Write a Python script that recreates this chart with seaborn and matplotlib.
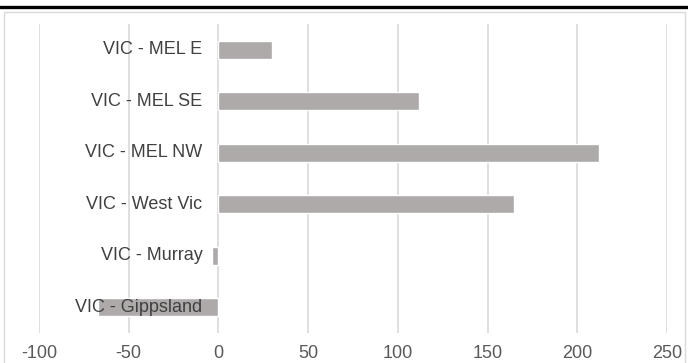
import matplotlib
matplotlib.use("Agg")
import matplotlib.pyplot as plt
import matplotlib.transforms as mtransforms
from matplotlib.patches import Rectangle
from matplotlib.lines import Line2D
import pandas as pd
import seaborn as sns

regions = ["VIC - MEL E", "VIC - MEL SE", "VIC - MEL NW",
           "VIC - West Vic", "VIC - Murray", "VIC - Gippsland"]
values = [30, 112, 212, 165, -3.5, -67]
xticks = [-100, -50, 0, 50, 100, 150, 200, 250]

df = pd.DataFrame({"region": regions, "value": values})

sns.set_theme(style="white")
plt.rcParams["font.family"] = ["Liberation Sans", "DejaVu Sans"]

fig = plt.figure(figsize=(6.88, 3.63), dpi=100)
ax = fig.add_axes([39 / 688, 1 - 333 / 363, (667 - 39) / 688, (333 - 24) / 363])

sns.barplot(data=df, x="value", y="region", orient="h", order=regions,
            color="#AEAAAA", saturation=1, width=0.35, ax=ax, zorder=3)

ax.set_xlim(-100, 250)
ax.set_xticks(xticks)
ax.set_xticklabels([str(t) for t in xticks], fontsize=13, color="#595959")
ax.tick_params(axis="x", length=0, pad=9)
ax.grid(axis="x", color="#D9D9D9", linewidth=1.2, zorder=0)
ax.set_xlabel("")
ax.set_ylabel("")
ax.set_yticks([])
for s in ax.spines.values():
    s.set_visible(False)

# category labels sit next to the zero line, like the source chart
trans = mtransforms.offset_copy(ax.transData, fig=fig, x=-16, y=0, units="dots")
for i, r in enumerate(regions):
    ax.text(0, i, r, transform=trans, ha="right", va="center",
            fontsize=13, color="#404040", zorder=4)

# chart frame and top rule
fig.patches.append(Rectangle((4 / 688, -0.05), 681 / 688, 1 - 12 / 363 + 0.05,
                             transform=fig.transFigure, fill=False,
                             edgecolor="#D9D9D9", linewidth=1, zorder=0))
fig.lines.append(Line2D([0, 1], [1 - 6.5 / 363] * 2, transform=fig.transFigure,
                        color="black", linewidth=2.4))

fig.savefig("out.png", dpi=100)
